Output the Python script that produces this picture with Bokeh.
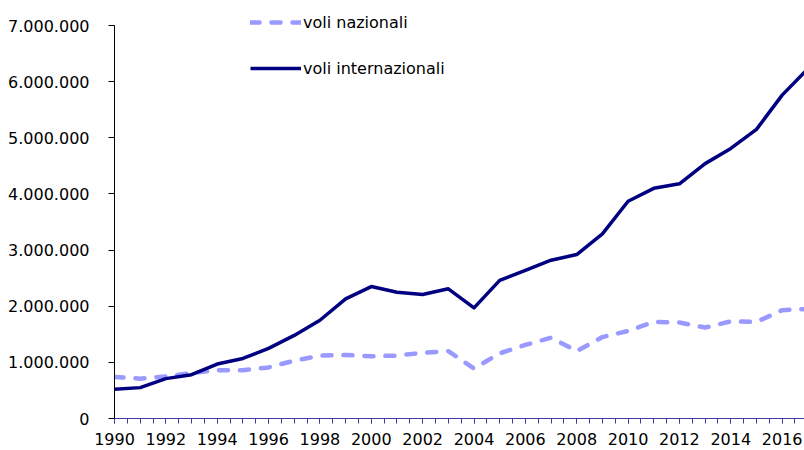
from bokeh.plotting import figure
from bokeh.models import (Range1d, SingleIntervalTicker, FixedTicker, CustomJSTickFormatter,
                          Legend, LegendItem)
from bokeh.embed import file_html
from bokeh.resources import INLINE

years = list(range(1990, 2018))
nazionali = [740000, 710000, 750000, 810000, 860000, 860000, 910000, 1030000, 1120000, 1130000,
             1110000, 1120000, 1170000, 1200000, 890000, 1160000, 1310000, 1440000, 1200000, 1450000,
             1560000, 1720000, 1710000, 1620000, 1730000, 1720000, 1930000, 1950000]
internazionali = [520000, 550000, 710000, 780000, 970000, 1070000, 1250000, 1480000, 1750000, 2130000,
                  2350000, 2250000, 2210000, 2310000, 1970000, 2460000, 2640000, 2820000, 2920000, 3290000,
                  3870000, 4100000, 4180000, 4540000, 4810000, 5150000, 5760000, 6230000]
y_ticks = [0, 1000000, 2000000, 3000000, 4000000, 5000000, 6000000, 7000000]
x_ticks = list(range(1990, 2018, 2))

FONT = "DejaVu Sans"

p = figure(width=804, height=450, output_backend="svg", toolbar_location=None,
           x_range=Range1d(1990, 2016.87), y_range=Range1d(0, 7303000),
           min_border_left=114, min_border_right=0, min_border_top=8, min_border_bottom=32)
p.outline_line_color = None
p.xgrid.visible = False
p.ygrid.visible = False
p.background_fill_color = "white"
p.border_fill_color = "white"

r_naz = p.line(years, nazionali, line_color="#9999ff", line_width=4.5,
               line_dash="9 12", line_cap="round")
r_int = p.line(years, internazionali, line_color="#000080", line_width=3.5, line_join="round")

# y axis
ya = p.yaxis[0]
ya.ticker = FixedTicker(ticks=y_ticks)
ya.bounds = (0, 7000000)
ya.formatter = CustomJSTickFormatter(code='return Math.round(tick).toString().replace(/\\B(?=(\\d{3})+(?!\\d))/g, ".");')
ya.axis_line_color = "black"
ya.major_tick_line_color = "black"
ya.major_tick_out = 6
ya.major_tick_in = 0
ya.minor_tick_line_color = None
ya.major_label_standoff = 19
ya.major_label_text_font = FONT
ya.major_label_text_font_size = "16px"
ya.major_label_text_color = "black"

# x axis
xa = p.xaxis[0]
xa.ticker = SingleIntervalTicker(interval=2, num_minor_ticks=4)
xa.axis_line_color = "#3c3ca0"
xa.major_tick_line_color = "#3c3ca0"
xa.minor_tick_line_color = "#3c3ca0"
xa.major_tick_out = 5
xa.major_tick_in = 0
xa.minor_tick_out = 5
xa.minor_tick_in = 0
xa.major_label_standoff = 9
xa.major_label_text_font = FONT
xa.major_label_text_font_size = "16px"
xa.major_label_text_color = "black"

legend = Legend(items=[LegendItem(label="voli nazionali", renderers=[r_naz]),
                       LegendItem(label="voli internazionali", renderers=[r_int])],
                location=(136, 340), orientation="vertical",
                padding=0, margin=0, spacing=26,
                glyph_width=51, glyph_height=20, label_height=20, label_standoff=2,
                label_text_font=FONT, label_text_font_size="16px", label_text_color="black",
                border_line_color=None, background_fill_alpha=0)
p.add_layout(legend, "center")

open("out.html", "w").write(file_html(p, INLINE))
